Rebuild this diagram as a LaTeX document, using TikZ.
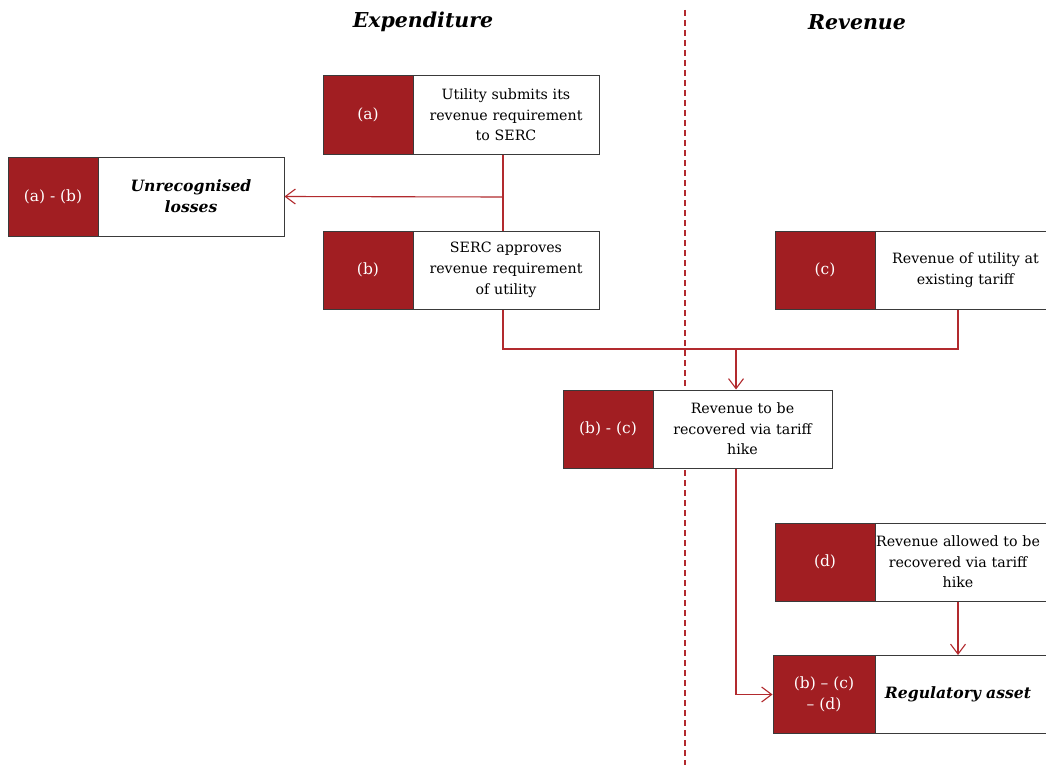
\documentclass[tikz,border=0pt]{standalone}
\usepackage{fontspec}
\setmainfont{DejaVu Serif}
\usetikzlibrary{arrows.meta,calc}
\definecolor{brick}{HTML}{A11E22}
\definecolor{wire}{HTML}{B22A2E}
\definecolor{frame}{HTML}{3A3A3A}
\begin{document}
\begin{tikzpicture}[x=1pt,y=-1pt,
  tag/.style={draw=frame,line width=1pt,fill=brick,text=white,inner sep=0pt,
    minimum height=78pt,font=\fontsize{15.5}{21.5}\selectfont,align=center},
  note/.style={draw=frame,line width=1pt,fill=white,text=black,inner sep=0pt,
    minimum height=78pt,font=\fontsize{14.2}{20.7}\selectfont,align=center},
  strong/.style={font=\fontsize{15.6}{20.7}\selectfont\bfseries\itshape},
  head/.style={font=\fontsize{20.5}{24}\selectfont\bfseries\itshape},
  link/.style={draw=wire,line width=1.1pt},
  flow/.style={link,-{Straight Barb[length=10pt,width=15pt,line width=1.1pt]}},
]
\clip (0,0) rectangle (1046,765);
\fill[white] (0,0) rectangle (1046,765);

% column divider
\draw[wire,line width=1.3pt,dash pattern=on 6pt off 4pt] (685,10) -- (685,765);

% column headings
\node[head] (hexp) at (423,22) {Expenditure};
\node[head] (hrev) at (857,22) {Revenue};

% step (a)
\node[note,minimum width=186pt,text width=180pt] (a-txt) at (506,115)
  {Utility submits its\\revenue requirement\\to SERC};
\node[tag,minimum width=90pt] (a-tag) at (368,115) {(a)};

% unrecognised losses
\node[note,strong,minimum width=186pt,text width=180pt,minimum height=79pt] (u-txt) at (191,196.5)
  {Unrecognised\\losses};
\node[tag,minimum width=90pt,minimum height=79pt] (u-tag) at (53,196.5) {(a) - (b)};

% step (b)
\node[note,minimum width=186pt,text width=180pt] (b-txt) at (506,270)
  {SERC approves\\revenue requirement\\of utility};
\node[tag,minimum width=90pt] (b-tag) at (368,270) {(b)};

% step (c)
\node[note,minimum width=180pt,text width=170pt,anchor=west] (c-txt) at (875,270)
  {Revenue of utility at\\existing tariff};
\node[tag,minimum width=100pt] (c-tag) at (825,270) {(c)};

% (b) - (c)
\node[note,minimum width=179pt,text width=172pt] (bc-txt) at (742.5,429)
  {Revenue to be\\recovered via tariff\\hike};
\node[tag,minimum width=90pt] (bc-tag) at (608,429) {(b) - (c)};

% step (d)
\node[note,minimum width=180pt,text width=172pt,anchor=west] (d-txt) at (875,562)
  {\hspace*{-15pt}Revenue allowed to be\\\hspace*{-15pt}recovered via tariff\\\hspace*{-15pt}hike};
\node[tag,minimum width=100pt] (d-tag) at (825,562) {(d)};

% regulatory asset
\node[note,strong,minimum width=180pt,text width=172pt,anchor=west] (r-txt) at (875,694.5)
  {\hspace*{-15pt}Regulatory asset};
\node[tag,minimum width=102pt] (r-tag) at (824,694.5) {(b) -- (c)\\-- (d)};

% connector junctions
\coordinate (ja) at (503,197);
\coordinate (jb) at (503,349);
\coordinate (jm) at (736,349);
\coordinate (jc) at (958,349);
\coordinate (jr) at (736,694.5);
\coordinate (jd) at (958,601);

% (a) feeds (b); the difference goes to losses
\draw[link] (a-txt.south -| ja) -- (b-txt.north -| ja);
\draw[flow] (ja) -- (u-txt.east);

% (b) and (c) merge into (b) - (c)
\draw[link] (b-txt.south -| jb) -- (jb) -- (jc) -- (c-txt.south -| jc);
\draw[flow] (jm) -- (bc-txt.north -| jm);

% into regulatory asset
\draw[flow] (bc-txt.south -| jm) -- (jr) -- (r-tag.west);
\draw[flow] (d-txt.south -| jd) -- (r-txt.north -| jd);
\end{tikzpicture}
\end{document}
